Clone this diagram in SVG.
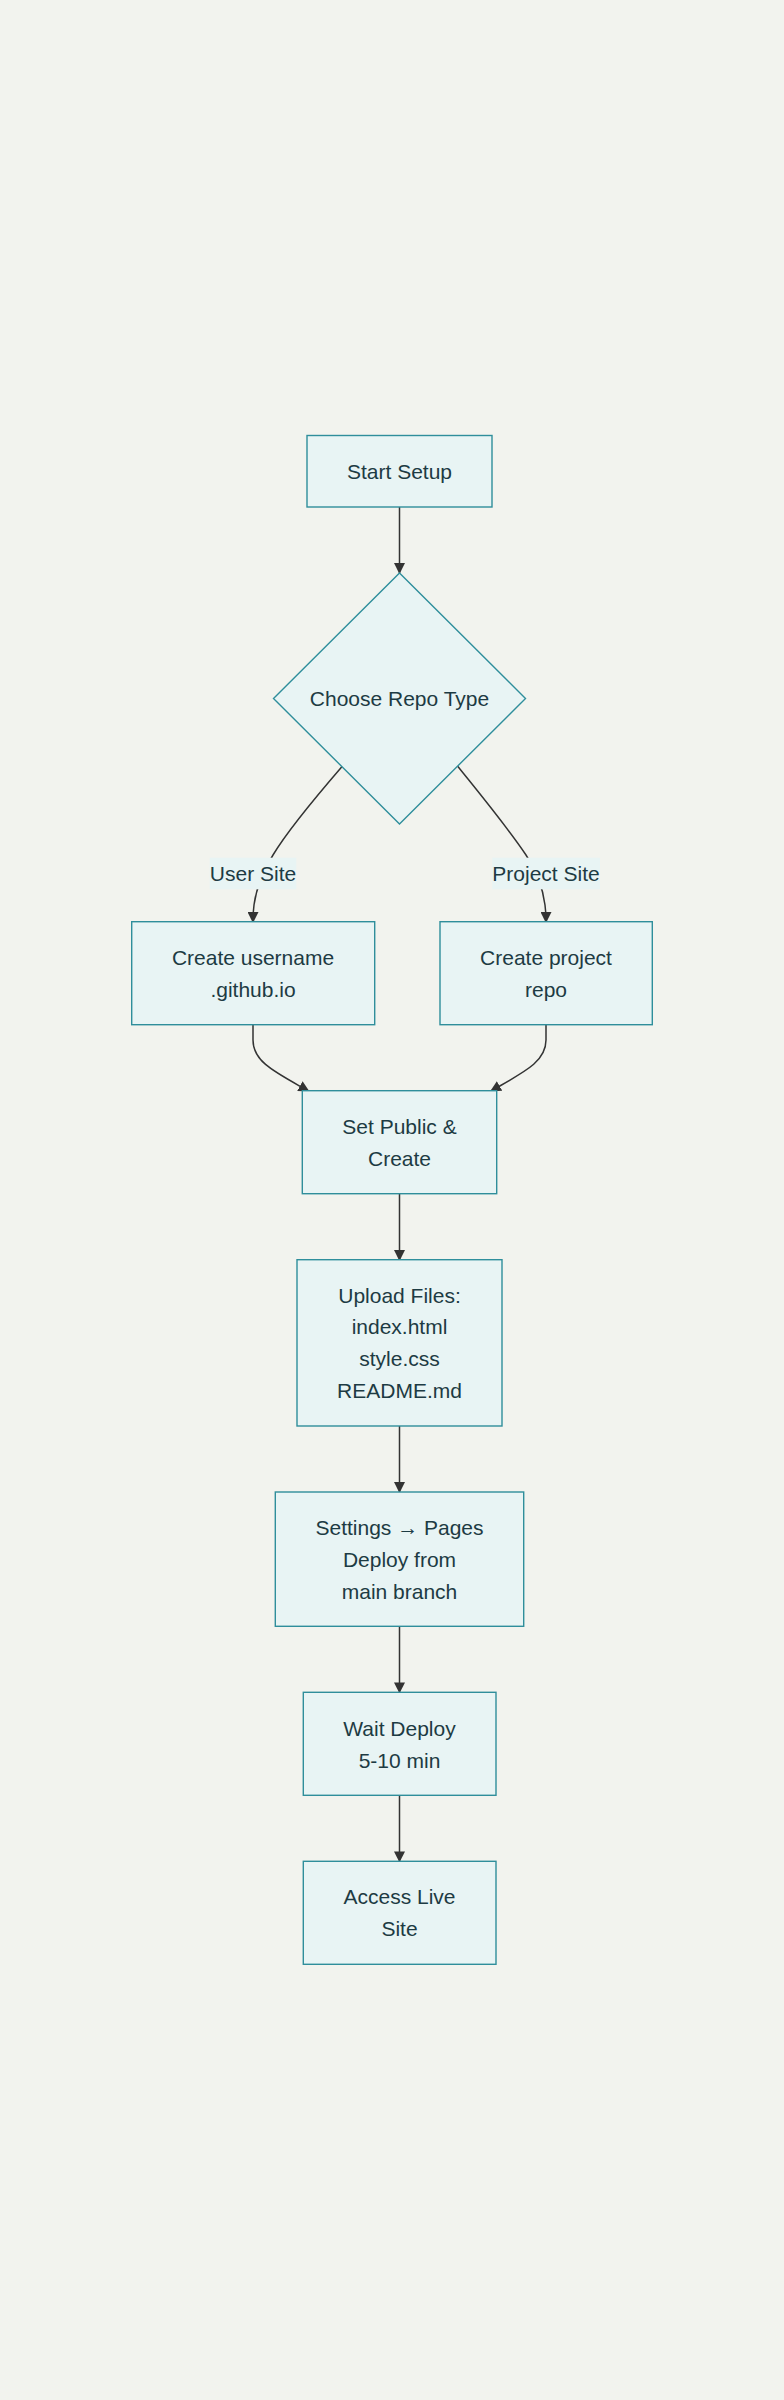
<svg xmlns="http://www.w3.org/2000/svg" width="784" height="2400" viewBox="0 0 784 2400">
<style>
.node rect,.node polygon{fill:#e8f4f4;stroke:#2f8e9b;stroke-width:1.4}
.t{font-family:"Liberation Sans",Arial,sans-serif;font-size:21px;fill:#1d3b43;text-anchor:middle;dominant-baseline:central}
.edge{fill:none;stroke:#333;stroke-width:1.5}
.lbg{fill:#e8f4f4}
</style>
<defs>
<marker id="arr" viewBox="0 0 10 10" refX="9" refY="5" markerWidth="11" markerHeight="11" markerUnits="userSpaceOnUse" orient="auto">
<path d="M0,0 L10,5 L0,10 z" fill="#333"/>
</marker>
</defs>
<rect x="0" y="0" width="784" height="2400" fill="#f2f3ee"/>
<g id="edges">
<path class="edge" d="M399.5,507 L399.5,573" marker-end="url(#arr)"/>
<path class="edge" d="M342.5,766 C314,799 288,830 273,855 C262,873 256,890 254,905 C253,912 253,916 253,922" marker-end="url(#arr)"/>
<path class="edge" d="M457.5,766 C484,799 508,828 526,855 C538,873 543,890 545,905 C546,912 546,916 546,922" marker-end="url(#arr)"/>
<path class="edge" d="M253,1025 L253,1040 C253,1062 275,1072 308.5,1091" marker-end="url(#arr)"/>
<path class="edge" d="M546,1025 L546,1040 C546,1062 524,1072 491,1091" marker-end="url(#arr)"/>
<path class="edge" d="M399.5,1194 L399.5,1260" marker-end="url(#arr)"/>
<path class="edge" d="M399.5,1426 L399.5,1492" marker-end="url(#arr)"/>
<path class="edge" d="M399.5,1626.3 L399.5,1692.3" marker-end="url(#arr)"/>
<path class="edge" d="M399.5,1795.3 L399.5,1861.3" marker-end="url(#arr)"/>
</g>
<g id="edge-labels">
<g id="label-user">
<rect class="lbg" x="209.7" y="857.7" width="86.6" height="31.6"/>
<text class="t" x="253" y="873.5">User Site</text>
</g>
<g id="label-project">
<rect class="lbg" x="492.3" y="857.7" width="107.7" height="31.6"/>
<text class="t" x="546" y="873.5">Project Site</text>
</g>
</g>
<g id="start" class="node">
<rect x="307" y="435.5" width="185" height="71.5"/>
<text class="t" x="399.5" y="471.5">Start Setup</text>
</g>
<g id="choose" class="node">
<polygon points="399.5,573 525.5,698.5 399.5,824 273.5,698.5"/>
<text class="t" x="399.5" y="698">Choose Repo Type</text>
</g>
<g id="user" class="node">
<rect x="131.7" y="921.7" width="243" height="103"/>
<text class="t" x="253" y="957.3">Create username</text>
<text class="t" x="253" y="989.5">.github.io</text>
</g>
<g id="project" class="node">
<rect x="440" y="921.7" width="212.3" height="103"/>
<text class="t" x="546" y="957.3">Create project</text>
<text class="t" x="546" y="989.5">repo</text>
</g>
<g id="public" class="node">
<rect x="302.3" y="1090.7" width="194.4" height="103"/>
<text class="t" x="399.5" y="1126">Set Public &amp;</text>
<text class="t" x="399.5" y="1158">Create</text>
</g>
<g id="upload" class="node">
<rect x="297" y="1259.7" width="205" height="166.3"/>
<text class="t" x="399.5" y="1295">Upload Files:</text>
<text class="t" x="399.5" y="1326.8">index.html</text>
<text class="t" x="399.5" y="1358.4">style.css</text>
<text class="t" x="399.5" y="1390">README.md</text>
</g>
<g id="settings" class="node">
<rect x="275.3" y="1492" width="248.4" height="134.3"/>
<text class="t" x="399.5" y="1527">Settings → Pages</text>
<text class="t" x="399.5" y="1559">Deploy from</text>
<text class="t" x="399.5" y="1591">main branch</text>
</g>
<g id="wait" class="node">
<rect x="303.3" y="1692.3" width="192.7" height="103"/>
<text class="t" x="399.5" y="1728">Wait Deploy</text>
<text class="t" x="399.5" y="1760">5-10 min</text>
</g>
<g id="access" class="node">
<rect x="303.3" y="1861.3" width="192.7" height="103"/>
<text class="t" x="399.5" y="1896.7">Access Live</text>
<text class="t" x="399.5" y="1928.5">Site</text>
</g>
</svg>
